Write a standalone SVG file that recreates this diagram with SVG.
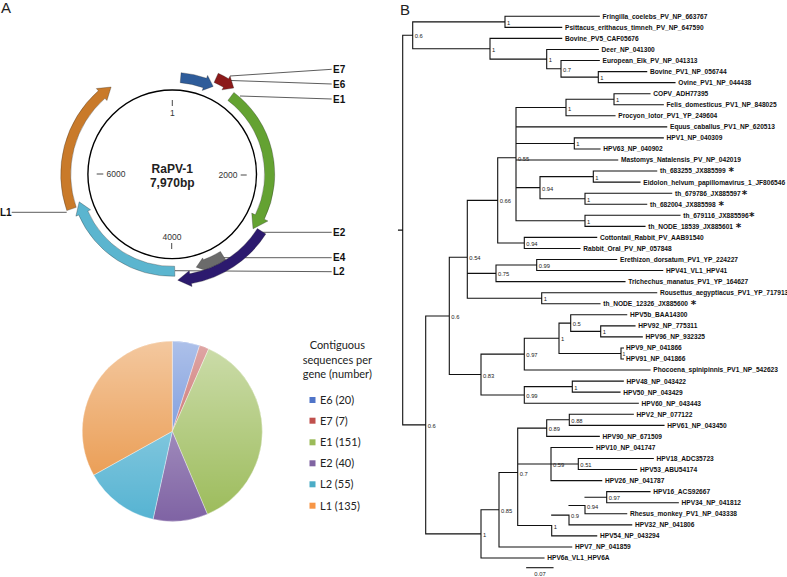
<svg xmlns="http://www.w3.org/2000/svg" width="787" height="577" viewBox="0 0 787 577">
<style>
.panel{font-family:"Liberation Sans",Arial,sans-serif;font-size:15px;fill:#222}
.glab{font-family:"Liberation Sans",Arial,sans-serif;font-weight:bold;font-size:10px;fill:#111}
.tick{font-family:"Liberation Sans",Arial,sans-serif;font-size:8.5px;fill:#333;text-anchor:middle}
.ctr{font-family:"Liberation Sans",Arial,sans-serif;font-weight:bold;font-size:12px;fill:#222;text-anchor:middle}
.gline{stroke:#333;stroke-width:0.8;fill:none}
.arr{stroke:#222;stroke-width:0.5;stroke-opacity:0.6}
.leg{font-family:Lato,"Open Sans",sans-serif;font-size:11px;fill:#222}
.legt{font-family:Lato,"Open Sans",sans-serif;font-size:11px;fill:#222;text-anchor:middle}
.slice{stroke:#fff;stroke-width:0.6;stroke-opacity:0.6}
.br{stroke:#111;stroke-width:1.1;fill:none;stroke-linecap:square}
.lf{font-family:"Liberation Sans",Arial,sans-serif;font-weight:bold;font-size:6.6px;fill:#111}
.sup{font-family:"Liberation Sans",Arial,sans-serif;font-size:5.8px;fill:#222}
.ast{font-family:"DejaVu Sans",sans-serif;font-weight:bold;font-size:10.5px}
</style>
<defs>
<linearGradient id="shade" gradientUnits="userSpaceOnUse" x1="0" y1="341" x2="0" y2="521">
<stop offset="0" stop-color="#fff" stop-opacity="0.5"/>
<stop offset="1" stop-color="#fff" stop-opacity="0"/>
</linearGradient>
</defs>
<rect width="787" height="577" fill="#fff"/>

<text class="panel" x="1" y="13">A</text>
<text class="panel" x="400" y="15">B</text>

<g id="connectors">
<g id="gene-lines">
<path class="gline" d="M230 76L331.7 69.3"/>
<path class="gline" d="M231 80.5L331.7 84"/>
<path class="gline" d="M240 96L331.7 99"/>
<path class="gline" d="M262 232.3L331.7 232.3"/>
<path class="gline" d="M223 257.7L331.7 257.7"/>
<path class="gline" d="M175 270.7L331.7 271.7"/>
<path class="gline" d="M11.7 212.3L66.7 212.3"/>
</g>
<path id="tree-branches" class="br" d="M398.5 230.1H402.7M402.7 35.31V424.9M402.7 35.31H412.7M412.7 21.83V48.78M412.7 21.83H505M412.7 48.78H490M505 16.3V27.36M490 38.41V59.15M490 59.15H546.7M546.7 49.47V68.82M546.7 68.82H561M561 60.52V77.11M561 77.11H598.3M598.3 71.58V82.63
M402.7 424.9H425.7M425.7 315.93V533.88M425.7 315.93H449.3M425.7 533.88H481M449.3 257.29V374.56M449.3 257.29H467.3M449.3 374.56H481M467.3 200.33V298.21M467.3 200.33H497.7M467.3 273.33H496M467.3 298.21H541.7M497.7 157.72V242.93M497.7 157.72H516M497.7 242.93H524.3M516 107.51V220.82M516 107.51H566M566 99.22V115.8M566 99.22H614M614 93.69V104.74M516 143.44H574.3M574.3 137.91V148.96M516 187.66H540M540 176.6V198.71M540 176.6H593.3M593.3 171.07V182.13M540 198.71H585M585 193.18V204.24M516 220.82H585M585 215.29V226.35M524.3 237.4V248.46M496 265.04V281.62M496 265.04H536.7M536.7 259.51V270.57M541.7 292.68V303.73
M481 354.17V394.94M481 354.17H524.3M481 394.94H524.3M524.3 338.28V370.06M524.3 338.28H559M559 323.08V353.48M559 323.08H570.7M570.7 314.79V331.37M570.7 331.37H600.7M600.7 325.84V336.9M559 353.48H621M621 347.95V359.01M524.3 386.65V403.23M524.3 386.65H572.3M572.3 381.12V392.17
M481 509.75V558M481 509.75H499M499 472.55V546.94M499 472.55H517.7M517.7 428.1V525.53M517.7 428.1H546.7M546.7 419.81V436.39M546.7 419.81H569.3M569.3 414.28V425.34M517.7 464.03H551M551 447.45V480.61M551 464.03H578.3M578.3 458.5V469.56M517.7 525.53H551.7M551.7 525.53V535.89M551.7 515.16H569M569 515.16V524.83M569 505.49H585M585 505.49V513.78M585 497.2H606.7M606.7 491.67V502.72
M505 16.3H599.3M505 27.36H561.7M490 38.41H561.7M546.7 49.47H598.3M561 60.52H599.3M598.3 71.58H646.7M598.3 82.63H675M614 93.69H650M614 104.74H663.3M566 115.8H615M516 126.85H666.7M574.3 137.91H663.3M574.3 148.96H600M516 160.02H617.7M593.3 171.07H656.7M593.3 182.13H640M585 193.18H671.7M585 204.24H646.7M585 215.29H680M585 226.35H645M524.3 237.4H596.7M524.3 248.46H580M536.7 259.51H616.7M536.7 270.57H662.7M496 281.62H625M541.7 292.68H656.7M541.7 303.73H600M570.7 314.79H626.7M600.7 325.84H635M600.7 336.9H642.3M621 347.95H623.5M621 359.01H623.5M524.3 370.06H650M572.3 381.12H623.3M572.3 392.17H620M524.3 403.23H638.3M569.3 414.28H633.3M569.3 425.34H664M546.7 436.39H599.3M551 447.45H592.7M578.3 458.5H653.3M578.3 469.56H636.7M551 480.61H601.7M606.7 491.67H650M606.7 502.72H678.3M585 513.78H626.7M569 524.83H631.7M551.7 535.89H596.7M499 546.94H571.7M481 558H544"/>
<path id="scale-bar" class="br" d="M526.7 567.7H553"/>
</g>

<g id="genome">
<circle cx="172.2" cy="174.3" r="84.3" fill="none" stroke="#000" stroke-width="1.4"/>
<text class="ctr" x="172.3" y="172.5">RaPV-1</text>
<text class="ctr" x="172.3" y="187">7,970bp</text>
<path d="M172.3 100V106M240.7 175H246.7M171.7 243V249M96.7 174H103.3" stroke="#333" stroke-width="0.9"/>
<text class="tick" x="172.3" y="116.3">1</text>
<text class="tick" x="228" y="178">2000</text>
<text class="tick" x="172" y="239.8">4000</text>
<text class="tick" x="116" y="177">6000</text>
</g>

<g id="gene-E4"><path class="arr" fill="#6b6b6b" d="M225.72,259.95A101,101 0 0 1 206.74,269.21L207.43,271.09L196.24,267.24L202.64,257.93L203.32,259.81A91,91 0 0 0 220.42,251.47Z"/><text class="glab" x="333" y="261.4">E4</text></g>
<g id="gene-E6"><path class="arr" fill="#2e5c9a" d="M181.09,72.69A102,102 0 0 1 206.58,78.27L207.6,75.44L213.19,86.39L202.2,90.51L203.21,87.68A92,92 0 0 0 180.22,82.65Z"/><text class="glab" x="333" y="87.7">E6</text></g>
<g id="gene-E7"><path class="arr" fill="#8c1a1a" d="M218.23,73.29A111,111 0 0 1 228.53,78.66L230.06,76.08L233.75,88.01L221.94,89.86L223.46,87.28A101,101 0 0 0 214.08,82.39Z"/><text class="glab" x="333" y="73">E7</text></g>
<g id="gene-E1"><path class="arr" fill="#64a232" d="M233.88,92.44A102.5,102.5 0 0 1 264.33,219.24L267.92,220.99L253.03,228.82L251.74,213.1L255.34,214.85A92.5,92.5 0 0 0 227.87,100.43Z"/><text class="glab" x="333" y="102.7">E1</text></g>
<g id="gene-E2"><path class="arr" fill="#2c1a6e" d="M265.82,233.94A111,111 0 0 1 191.47,283.61L191.99,286.57L177.75,280.15L189.21,270.81L189.73,273.76A101,101 0 0 0 257.38,228.57Z"/><text class="glab" x="333" y="236">E2</text></g>
<g id="gene-L2"><path class="arr" fill="#5bb5cf" d="M174.87,276.27A102,102 0 0 1 78.66,214.97L75.9,216.16L79.2,201.85L90.58,209.78L87.83,210.98A92,92 0 0 0 174.61,266.27Z"/><text class="glab" x="333" y="275.4">L2</text></g>
<g id="gene-L1"><path class="arr" fill="#c97a2a" d="M66.78,210.6A111.5,111.5 0 0 1 98.32,90.79L96.33,88.54L111.11,87.06L106.93,100.52L104.95,98.28A101.5,101.5 0 0 0 76.23,207.35Z"/><text class="glab" x="0" y="216">L1</text></g>

<g id="pie">
<g id="slice-E6"><path class="slice" fill="#5b82d4" d="M172.3,431.3L172.3,341.3A90,90 0 0 1 199.59,345.54Z"/></g>
<g id="slice-E7"><path class="slice" fill="#c0504d" d="M172.3,431.3L199.59,345.54A90,90 0 0 1 208.64,348.97Z"/></g>
<g id="slice-E1"><path class="slice" fill="#9bbb59" d="M172.3,431.3L208.64,348.97A90,90 0 0 1 207.38,514.18Z"/></g>
<g id="slice-E2"><path class="slice" fill="#7f63a4" d="M172.3,431.3L207.38,514.18A90,90 0 0 1 153.05,519.22Z"/></g>
<g id="slice-L2"><path class="slice" fill="#55b3d2" d="M172.3,431.3L153.05,519.22A90,90 0 0 1 93.67,475.09Z"/></g>
<g id="slice-L1"><path class="slice" fill="#e8913f" d="M172.3,431.3L93.67,475.09A90,90 0 0 1 172.3,341.3Z"/></g>
<circle cx="172.3" cy="431.3" r="90" fill="url(#shade)"/>
</g>

<g id="legend">
<text class="legt" x="337.3" y="349">Contiguous</text>
<text class="legt" x="337.3" y="364">sequences per</text>
<text class="legt" x="337.3" y="378.3">gene (number)</text>
<g id="leg-E6"><rect x="309.5" y="397" width="6" height="6" fill="#4f74c8"/><text class="leg" x="320" y="404">E6 (20)</text></g>
<g id="leg-E7"><rect x="309.5" y="417.7" width="6" height="6" fill="#c0504d"/><text class="leg" x="320" y="424.7">E7 (7)</text></g>
<g id="leg-E1"><rect x="309.5" y="439.3" width="6" height="6" fill="#9bbb59"/><text class="leg" x="320" y="446.3">E1 (151)</text></g>
<g id="leg-E2"><rect x="309.5" y="460.3" width="6" height="6" fill="#8064a2"/><text class="leg" x="320" y="467.3">E2 (40)</text></g>
<g id="leg-L2"><rect x="309.5" y="481.3" width="6" height="6" fill="#4bacc6"/><text class="leg" x="320" y="488.3">L2 (55)</text></g>
<g id="leg-L1"><rect x="309.5" y="502.7" width="6" height="6" fill="#f79646"/><text class="leg" x="320" y="509.7">L1 (135)</text></g>
</g>

<g id="supports" class="sup">
<text x="507" y="24.8">1</text>
<text x="414.7" y="38.3">0.6</text>
<text x="492" y="51.8">1</text>
<text x="548.7" y="62.2">1</text>
<text x="563" y="71.8">0.7</text>
<text x="600.3" y="80.1">1</text>
<text x="616" y="102.2">1</text>
<text x="568" y="110.5">1</text>
<text x="576.3" y="146.4">1</text>
<text x="518" y="160.7">0.55</text>
<text x="595.3" y="179.6">1</text>
<text x="542" y="190.7">0.94</text>
<text x="587" y="201.7">1</text>
<text x="499.7" y="203.3">0.66</text>
<text x="587" y="223.8">1</text>
<text x="526.3" y="245.9">0.94</text>
<text x="469.3" y="260.3">0.54</text>
<text x="538.7" y="268">0.99</text>
<text x="498" y="276.3">0.75</text>
<text x="543.7" y="301.2">1</text>
<text x="451.3" y="318.9">0.6</text>
<text x="572.7" y="326.1">0.5</text>
<text x="602.7" y="334.4">1</text>
<text x="561" y="341.3">1</text>
<text x="622.4" y="356" style="font-size:5px">1</text>
<text x="526.3" y="357.2">0.97</text>
<text x="483" y="377.6">0.83</text>
<text x="574.3" y="389.7">1</text>
<text x="526.3" y="397.9">0.99</text>
<text x="571.3" y="422.8">0.88</text>
<text x="427.7" y="427.9">0.6</text>
<text x="548.7" y="431.1">0.89</text>
<text x="553" y="467">0.59</text>
<text x="580.3" y="467">0.51</text>
<text x="519.7" y="475.6">0.7</text>
<text x="608.7" y="500.2">0.97</text>
<text x="587" y="508.5">0.94</text>
<text x="501" y="512.8">0.85</text>
<text x="571" y="518.2">0.9</text>
<text x="553.7" y="528.5">1</text>
<text x="483" y="536.9">1</text>
<text x="540" y="576" text-anchor="middle">0.07</text>
</g>

<g id="leaves" class="lf">
<g id="n0"><text x="602.6" y="18.7">Fringilla_coelebs_PV_NP_663767</text></g>
<g id="n1"><text x="565" y="29.76">Psittacus_erithacus_timneh_PV_NP_647590</text></g>
<g id="n2"><text x="565" y="40.81">Bovine_PV5_CAF05676</text></g>
<g id="n3"><text x="601.6" y="51.87">Deer_NP_041300</text></g>
<g id="n4"><text x="602.6" y="62.92">European_Elk_PV_NP_041313</text></g>
<g id="n5"><text x="650" y="73.98">Bovine_PV1_NP_056744</text></g>
<g id="n6"><text x="678.3" y="85.03">Ovine_PV1_NP_044438</text></g>
<g id="n7"><text x="653.3" y="96.09">COPV_ADH77395</text></g>
<g id="n8"><text x="666.6" y="107.14">Felis_domesticus_PV1_NP_848025</text></g>
<g id="n9"><text x="618.3" y="118.2">Procyon_lotor_PV1_YP_249604</text></g>
<g id="n10"><text x="670" y="129.25">Equus_caballus_PV1_NP_620513</text></g>
<g id="n11"><text x="666.6" y="140.31">HPV1_NP_040309</text></g>
<g id="n12"><text x="603.3" y="151.36">HPV63_NP_040902</text></g>
<g id="n13"><text x="621" y="162.42">Mastomys_Natalensis_PV_NP_042019</text></g>
<g id="n14"><text x="660" y="173.47">th_683255_JX885599 <tspan class="ast" dx="1" dy="2">*</tspan></text></g>
<g id="n15"><text x="643.3" y="184.53">Eidolon_helvum_papillomavirus_1_JF806546</text></g>
<g id="n16"><text x="675" y="195.58">th_679786_JX885597<tspan class="ast" dx="1" dy="2">*</tspan></text></g>
<g id="n17"><text x="650" y="206.64">th_682004_JX885598 <tspan class="ast" dx="1" dy="2">*</tspan></text></g>
<g id="n18"><text x="683.3" y="217.69">th_679116_JX885596<tspan class="ast" dx="0.5" dy="2">*</tspan></text></g>
<g id="n19"><text x="648.3" y="228.75">th_NODE_18539_JX885601 <tspan class="ast" dx="1" dy="2">*</tspan></text></g>
<g id="n20"><text x="600" y="239.8">Cottontail_Rabbit_PV_AAB91540</text></g>
<g id="n21"><text x="583.3" y="250.86">Rabbit_Oral_PV_NP_057848</text></g>
<g id="n22"><text x="620" y="261.91">Erethizon_dorsatum_PV1_YP_224227</text></g>
<g id="n23"><text x="666" y="272.97">HPV41_VL1_HPV41</text></g>
<g id="n24"><text x="628.3" y="284.02">Trichechus_manatus_PV1_YP_164627</text></g>
<g id="n25"><text x="660" y="295.08">Rousettus_aegyptiacus_PV1_YP_717913</text></g>
<g id="n26"><text x="603.3" y="306.13">th_NODE_12326_JX885600 <tspan class="ast" dx="1" dy="2">*</tspan></text></g>
<g id="n27"><text x="630" y="317.19">HPV5b_BAA14300</text></g>
<g id="n28"><text x="638.3" y="328.24">HPV92_NP_775311</text></g>
<g id="n29"><text x="645.6" y="339.3">HPV96_NP_932325</text></g>
<g id="n30"><text x="626" y="350.35">HPV9_NP_041866</text></g>
<g id="n31"><text x="626" y="361.41">HPV91_NP_041866</text></g>
<g id="n32"><text x="653.3" y="372.46">Phocoena_spinipinnis_PV1_NP_542623</text></g>
<g id="n33"><text x="626.6" y="383.52">HPV48_NP_043422</text></g>
<g id="n34"><text x="623.3" y="394.57">HPV50_NP_043429</text></g>
<g id="n35"><text x="641.6" y="405.63">HPV60_NP_043443</text></g>
<g id="n36"><text x="636.6" y="416.68">HPV2_NP_077122</text></g>
<g id="n37"><text x="667.3" y="427.74">HPV61_NP_043450</text></g>
<g id="n38"><text x="602.6" y="438.79">HPV90_NP_671509</text></g>
<g id="n39"><text x="596" y="449.85">HPV10_NP_041747</text></g>
<g id="n40"><text x="656.6" y="460.9">HPV18_ADC35723</text></g>
<g id="n41"><text x="640" y="471.96">HPV53_ABU54174</text></g>
<g id="n42"><text x="605" y="483.01">HPV26_NP_041787</text></g>
<g id="n43"><text x="653.3" y="494.07">HPV16_ACS92667</text></g>
<g id="n44"><text x="681.6" y="505.12">HPV34_NP_041812</text></g>
<g id="n45"><text x="630" y="516.18">Rhesus_monkey_PV1_NP_043338</text></g>
<g id="n46"><text x="635" y="527.23">HPV32_NP_041806</text></g>
<g id="n47"><text x="600" y="538.29">HPV54_NP_043294</text></g>
<g id="n48"><text x="575" y="549.34">HPV7_NP_041859</text></g>
<g id="n49"><text x="547.3" y="560.4">HPV6a_VL1_HPV6A</text></g>
</g>
</svg>
